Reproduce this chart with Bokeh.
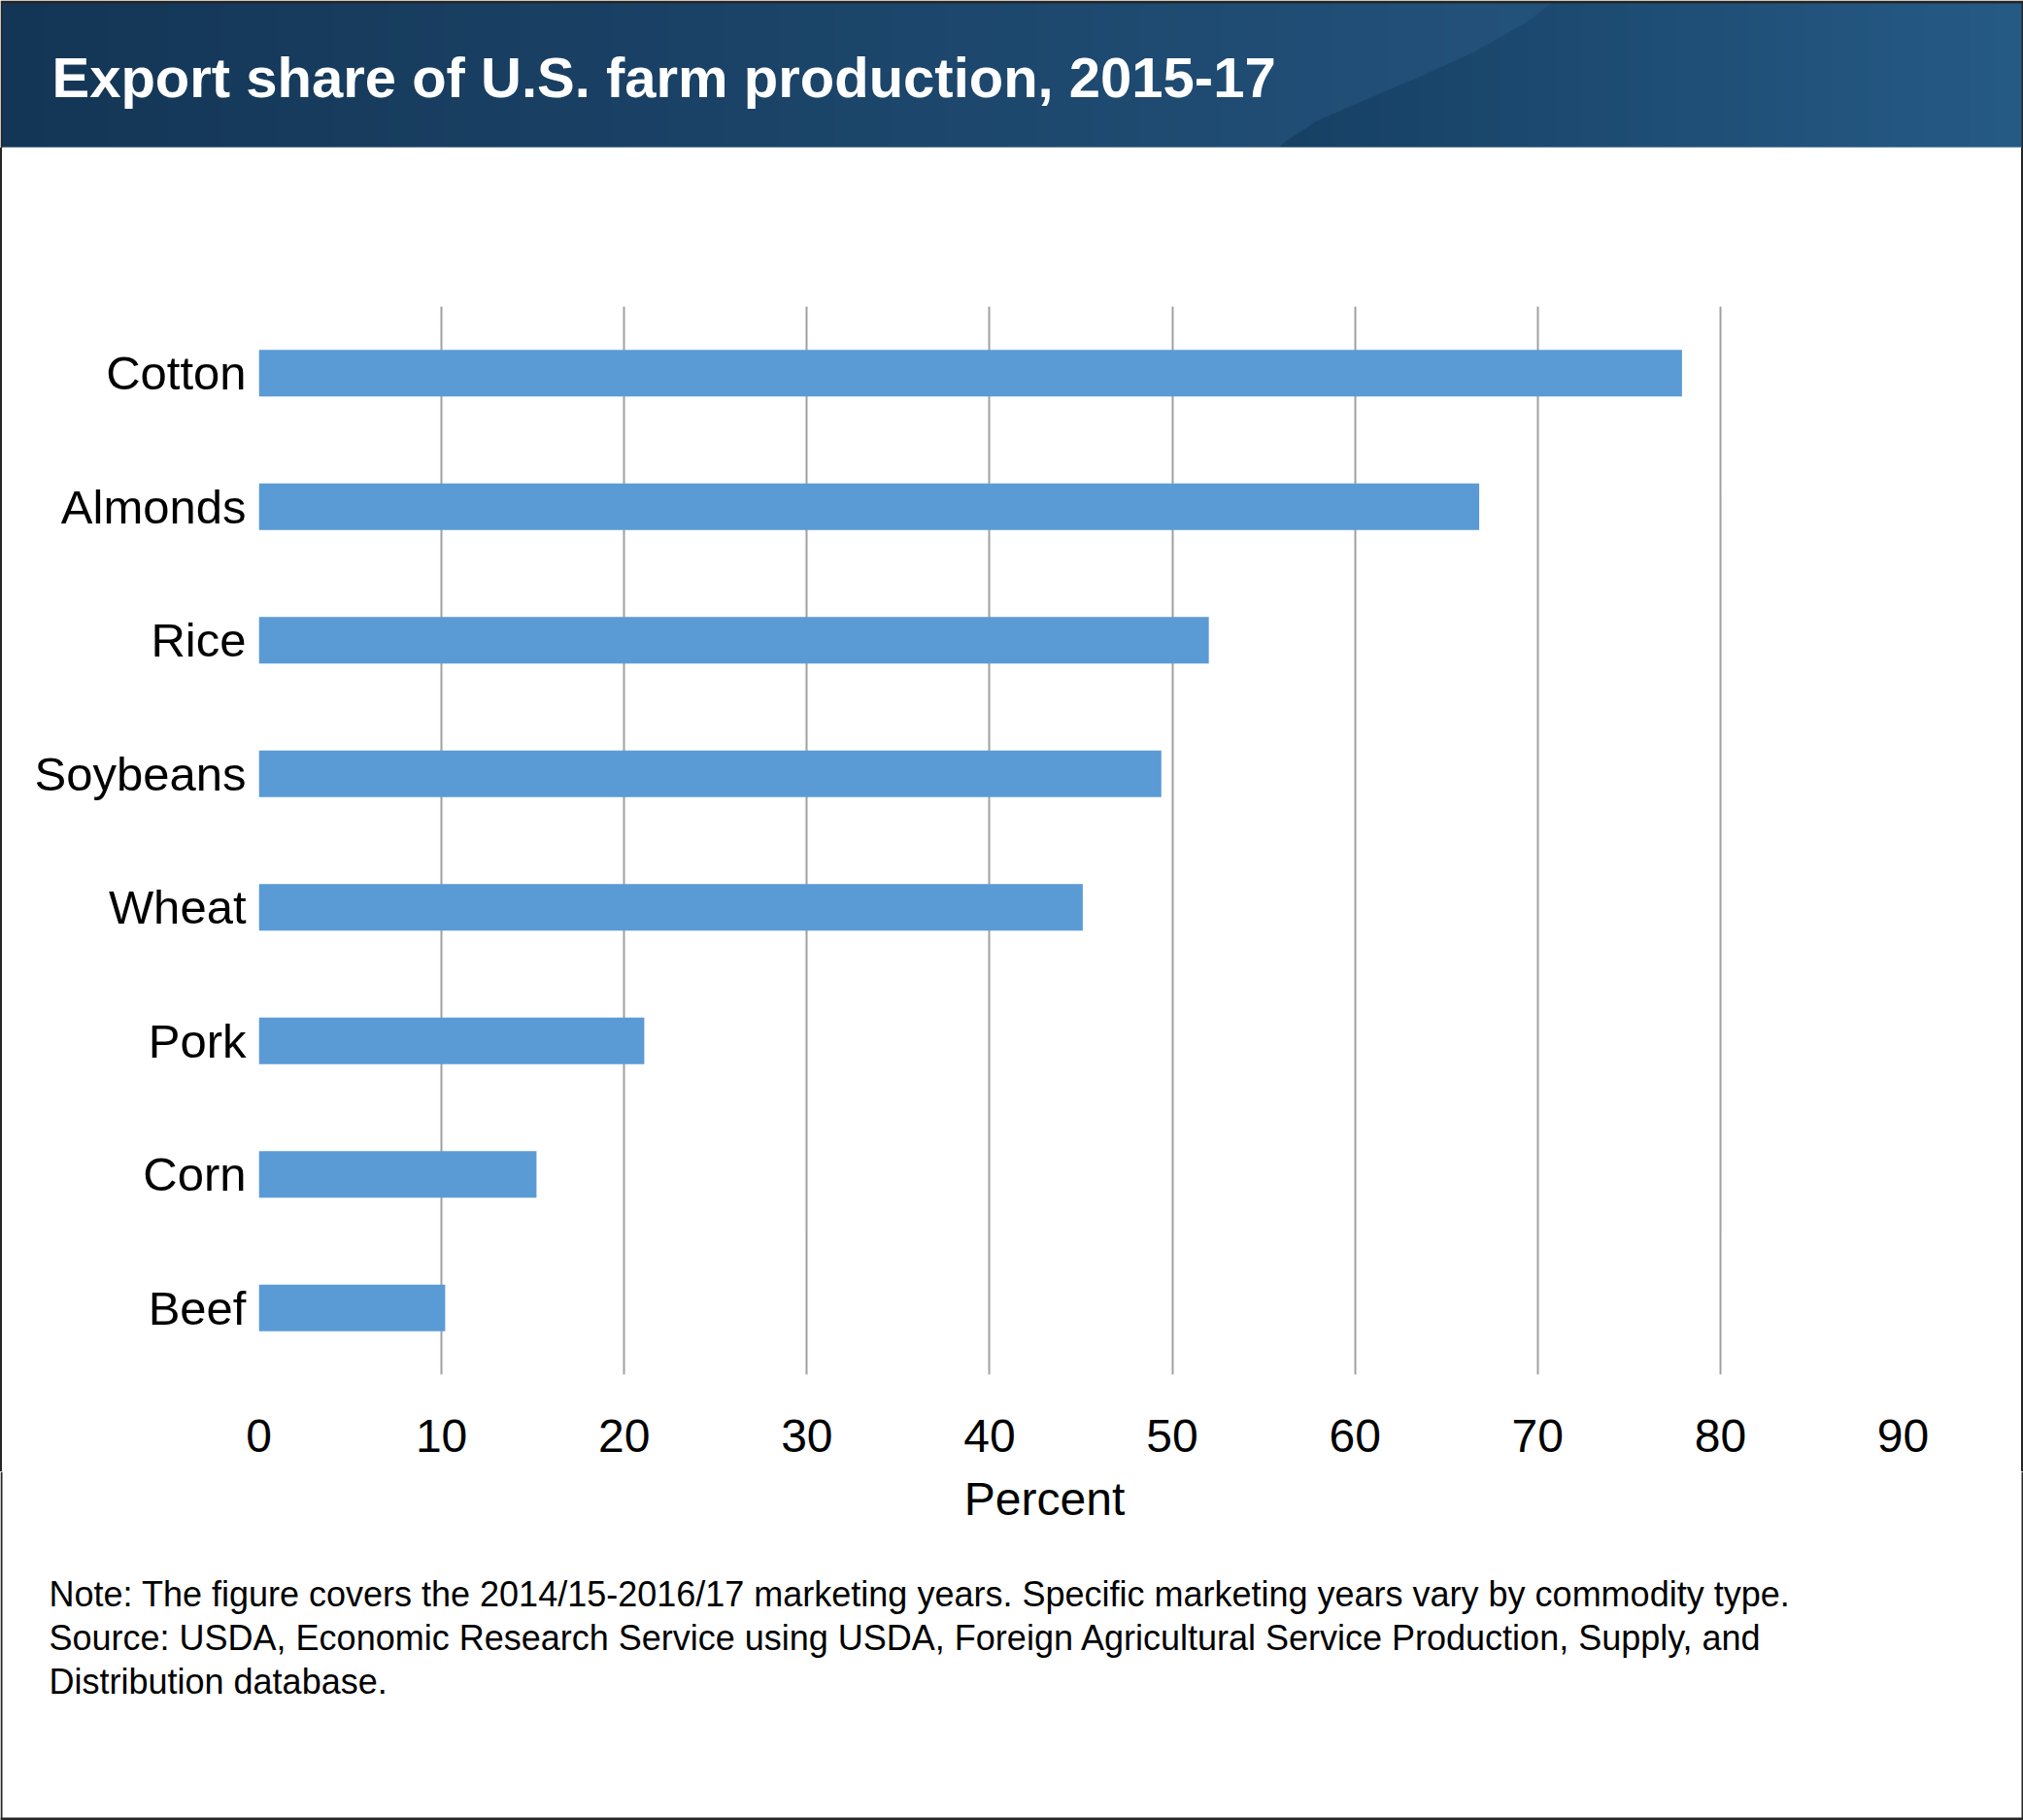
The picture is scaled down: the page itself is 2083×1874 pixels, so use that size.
import numpy as np
from bokeh.plotting import figure
from bokeh.models import Range1d, FactorRange, FixedTicker, ColumnDataSource, Spacer
from bokeh.layouts import row
from bokeh.embed import file_html
from bokeh.resources import INLINE
from bokeh.core.properties import value

# ---------------- data ----------------
categories = ["Cotton", "Almonds", "Rice", "Soybeans", "Wheat", "Pork", "Corn", "Beef"]
export_share = [77.9, 66.8, 52.0, 49.4, 45.1, 21.1, 15.2, 10.2]
x_ticks = [0, 10, 20, 30, 40, 50, 60, 70, 80, 90]
title_text = "Export share of U.S. farm production, 2015-17"
axis_title = "Percent"
note_lines = [
    "Note: The figure covers the 2014/15-2016/17 marketing years. Specific marketing years vary by commodity type.",
    "Source: USDA, Economic Research Service using USDA, Foreign Agricultural Service Production, Supply, and",
    "Distribution database.",
]

FONT = "Liberation Sans"
W = 2083
HH = 152           # header height
MH = 1363          # chart block height
NH = 1874 - HH - MH
BAR = "#5b9bd5"
EDGE = "#262626"

def bare(fig):
    fig.grid.visible = False
    fig.outline_line_color = None
    fig.background_fill_color = "white"
    fig.border_fill_color = "white"

# ---------------- header (background painted as an image) ----------------
hdr = figure(width=W, height=HH, x_range=Range1d(0, W), y_range=Range1d(0, HH),
             output_backend="svg", toolbar_location=None,
             x_axis_location=None, y_axis_location=None,
             min_border=0, min_border_left=0, min_border_right=0,
             min_border_top=0, min_border_bottom=0)
bare(hdr)
yy, xx = np.mgrid[0:HH, 0:W].astype(float)          # yy measured from the top
xb = np.interp(yy, [0, 23, 53, 77, 100, 123, 147, 152],
               [1600, 1569, 1516, 1463, 1409, 1356, 1319, 1316])
left_c0 = np.array([20, 54, 86.0]); left_c1 = np.array([35, 82, 123.0])
right_c0 = np.array([23, 64, 100.0]); right_c1 = np.array([38, 91, 134.0])
tl = np.clip(xx / 1600.0, 0, 1)[..., None]
tr = np.clip((xx - 1316) / (W - 1316), 0, 1)[..., None]
col_l = left_c0 + (left_c1 - left_c0) * tl
col_r = right_c0 + (right_c1 - right_c0) * tr
rgb = np.where((xx > xb)[..., None], col_r, col_l)
rgb[0:3, :, :] = 38
rgb[:, 0:2, :] = 38
rgb[:, W - 2:, :] = 38
rgb[HH - 1, 2:W - 2, :] = [184, 200, 216]
img = np.zeros((HH, W), dtype=np.uint32)
view = img.view(dtype=np.uint8).reshape((HH, W, 4))
view[..., :3] = rgb[::-1].astype(np.uint8)
view[..., 3] = 255
hdr.image_rgba(image=[img], x=0, y=0, dw=W, dh=HH)
hdr.text(x=[53], y=[HH - 79], text=[title_text], text_color="white",
         text_font=value(FONT), text_font_style="bold", text_font_size="58px",
         text_align="left", text_baseline="middle")

# ---------------- main chart ----------------
src = ColumnDataSource(dict(cat=categories, share=export_share))
p = figure(width=W - 4, height=MH,
           y_range=FactorRange(factors=list(reversed(categories))),
           x_range=Range1d(0, 90),
           output_backend="svg", toolbar_location=None,
           min_border_left=264, min_border_right=122,
           min_border_top=163, min_border_bottom=100)
p.outline_line_color = None
p.background_fill_color = "white"
p.border_fill_color = "white"
p.hbar(y="cat", right="share", left=0, height=0.35, source=src,
       fill_color=BAR, line_color=None)

p.ygrid.visible = False
p.xgrid.ticker = FixedTicker(ticks=x_ticks)
p.xgrid.grid_line_color = "#a0a0a0"
p.xgrid.grid_line_width = 2

p.xaxis.ticker = FixedTicker(ticks=x_ticks)
for ax in (p.xaxis[0], p.yaxis[0]):
    ax.axis_line_color = None
    ax.major_tick_line_color = None
    ax.minor_tick_line_color = None
    ax.major_tick_out = 0
    ax.major_tick_in = 0
    ax.major_label_text_font = FONT
    ax.major_label_text_font_size = "48px"
    ax.major_label_text_color = "black"
p.xaxis.major_label_standoff = 46
p.yaxis.major_label_standoff = 13
p.yaxis.major_label_text_font_size = "49px"

edge_l = Spacer(width=2, height=MH, styles={"background-color": EDGE})
edge_r = Spacer(width=2, height=MH, styles={"background-color": EDGE})
chart_row = row(edge_l, p, edge_r, spacing=0)

# ---------------- notes ----------------
nt = figure(width=W, height=NH, x_range=Range1d(0, W), y_range=Range1d(1874, 1515),
            output_backend="svg", toolbar_location=None,
            x_axis_location=None, y_axis_location=None,
            min_border=0, min_border_left=0, min_border_right=0,
            min_border_top=0, min_border_bottom=0)
bare(nt)
nt.quad(left=[0, W - 2, 0], right=[2, W, W], top=[1515, 1515, 1871],
        bottom=[1874, 1874, 1874], fill_color=EDGE, line_color=None)
nt.text(x=[1075], y=[1543], text=[axis_title], text_color="black",
        text_font=value(FONT), text_font_size="48px",
        text_align="center", text_baseline="middle")
nt.text(x=[50, 50, 50], y=[1641, 1686, 1731], text=note_lines, text_color="black",
        text_font=value(FONT), text_font_size="36px",
        text_align="left", text_baseline="middle")

open("out.html", "w").write(file_html([hdr, chart_row, nt], INLINE))
